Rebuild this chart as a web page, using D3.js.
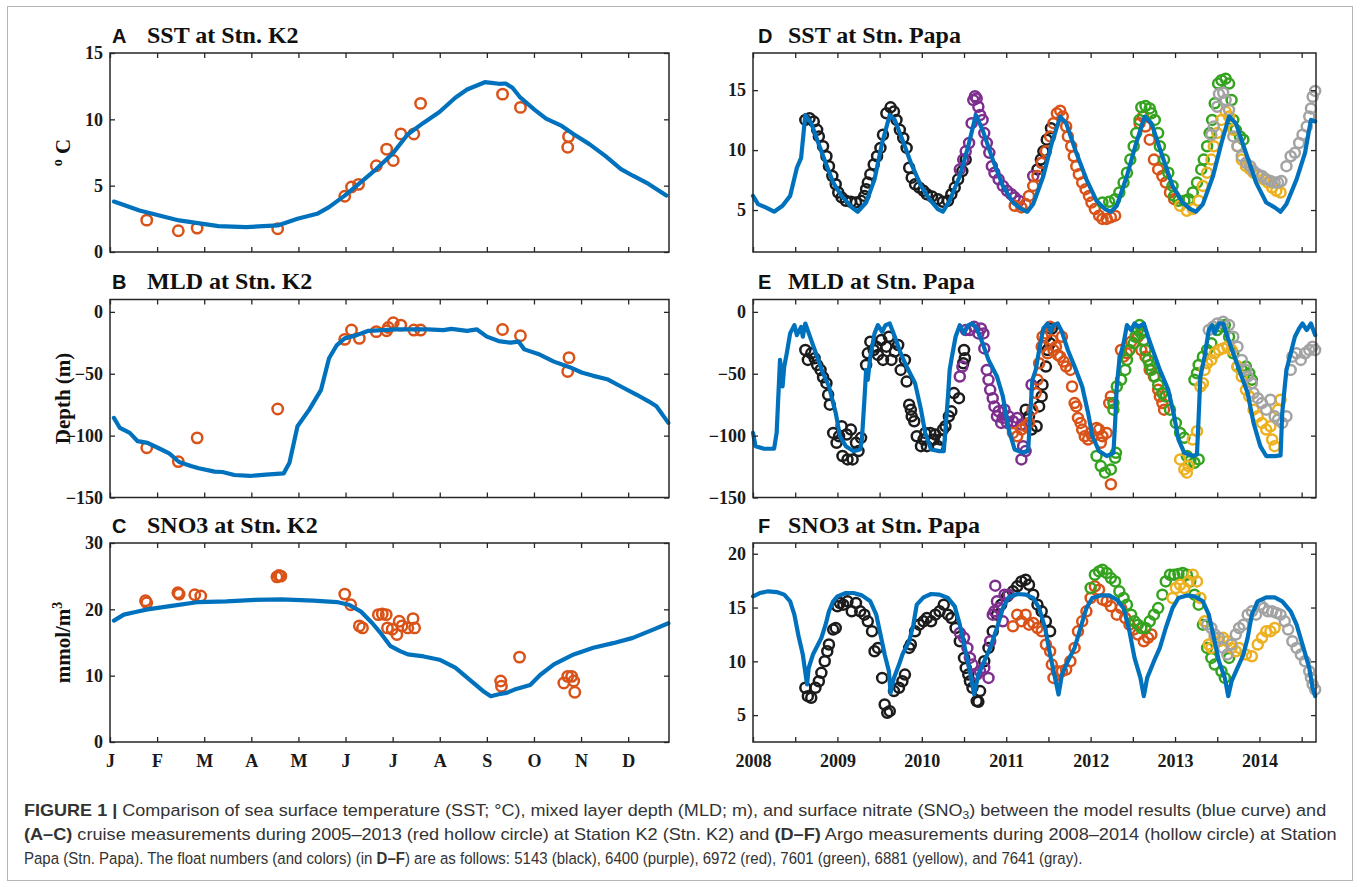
<!DOCTYPE html>
<html><head><meta charset="utf-8">
<script src="https://cdn.jsdelivr.net/npm/d3@7/dist/d3.min.js"></script>
<style>
body{margin:0;background:#fff;}
svg{display:block;}
</style></head><body>
<svg id="fig" width="1360" height="887"></svg>
<script>
// ---------------- DATA ----------------
// K2 panels: x = day of (30-day-month) year
const monthTicks = [0,30,60,90,120,150,180,210,240,270,300,330];
const monthLabels = ["J","F","M","A","M","J","J","A","S","O","N","D"];

const k2SstModel = [[2.5,3.8],[18.8,3.13],[44,2.38],[69.1,1.95],[86.7,1.88],[106.8,2.0],[119.4,2.5],[131.9,2.88],[139.5,3.38],[149.5,4.25],[159.6,5.25],[169.6,6.25],[179.7,7.38],[189.7,8.88],[199.8,9.75],[209.8,10.55],[219.9,11.63],[227.4,12.25],[238.7,12.8],[243,12.75],[247.5,12.68],[252,12.7],[256.3,12.38],[261.4,11.63],[270.1,10.75],[277.7,10.05],[287.7,9.5],[295.3,8.88],[305.3,8.13],[315.4,7.25],[325.4,6.25],[333,5.75],[343,5.13],[354.3,4.25]];
const k2SstObs = [[23.4,2.4],[43.5,1.6],[55.5,1.8],[106.8,1.75],[149.5,4.2],[153.8,4.9],[158.3,5.1],[169.6,6.5],[176.2,7.75],[180.4,6.9],[185.2,8.9],[193.5,8.9],[197.8,11.2],[250,11.9],[261.4,10.9],[292,8.7],[291.5,7.9]];

const k2MldModel = [[2.5,-85.7],[6.3,-93.8],[12.6,-97.8],[17.6,-104.5],[23.9,-105.8],[31.4,-110.4],[37.7,-114.4],[44,-121.3],[51.5,-124.6],[56.5,-126.4],[66.6,-129.1],[71.6,-129.4],[79.2,-131.8],[89.2,-132.6],[99.3,-131.5],[110.6,-130.5],[114.3,-121.9],[119.4,-92.4],[126.9,-79],[134.4,-63],[139.5,-37.5],[144.5,-26.8],[149.5,-21.4],[157.1,-18.8],[164.6,-15.3],[182.2,-14.2],[202.3,-14.2],[212.3,-14.7],[217.4,-13.7],[227.4,-15.3],[233.7,-14.2],[240,-20],[247.5,-23.6],[255.1,-24.9],[260.1,-24],[263.9,-30.3],[272.7,-34],[282.7,-40.2],[292.8,-44.7],[300.3,-49],[307.8,-51.7],[316.6,-54.4],[325.4,-60.3],[335.5,-67],[343,-72.3],[348,-76.3],[355.6,-89.7]];
const k2MldObs = [[23.4,-109.8],[43.5,-121],[55.5,-101.8],[106.8,-78.5],[149.5,-22.2],[153.8,-14.7],[158.8,-21.4],[169.6,-16],[176.2,-15.3],[177.2,-12.6],[180.4,-8.8],[185.2,-10.7],[193.5,-14.7],[197.8,-14.7],[250,-14.2],[261.4,-19.3],[292.3,-37],[291.5,-48.2]];

const k2No3Model = [[2.5,18.3],[8.8,19.2],[16.3,19.6],[23.9,20.0],[41.5,20.6],[56.5,21.1],[74.1,21.2],[89.2,21.4],[109.3,21.5],[129.4,21.3],[144.5,21.1],[152,20.7],[159.6,19.7],[167.1,17.9],[172.1,16.5],[178.4,14.5],[184.7,13.7],[189.7,13.2],[199.8,12.9],[209.8,12.4],[219.9,11.2],[229.9,9.2],[237.5,7.7],[242.5,6.9],[247.5,7.2],[252.6,7.4],[257.6,7.9],[267.6,8.6],[273.9,10.1],[282.7,11.7],[295.3,13.2],[307.8,14.2],[320.4,14.9],[333,15.7],[345.5,16.9],[355.6,17.9]];
const k2No3Obs = [[22.6,21.3],[23.4,21.0],[43.2,22.5],[44,22.3],[54,22.2],[57.8,22.0],[106.3,24.9],[107.6,25.1],[108.8,25.0],[149.5,22.3],[153.3,20.7],[158.8,17.5],[160.8,17.2],[170.9,19.2],[173.4,19.3],[175.9,19.2],[176.7,17.2],[179.7,17.0],[182.7,16.2],[184.2,18.2],[186,17.5],[189.7,17.2],[193,18.6],[194,17.2],[248.8,9.2],[249.3,8.4],[260.8,12.8],[289,8.9],[291.5,9.9],[294,9.9],[295.3,9.2],[296,7.5]];

// Papa panels: x = decimal year
const yearTicks = [2008,2008.5,2009,2009.5,2010,2010.5,2011,2011.5,2012,2012.5,2013,2013.5,2014,2014.5];
const yearLabels = ["2008","2009","2010","2011","2012","2013","2014"];

const papaSstModel = [[2008.00,6.18],[2008.06,5.50],[2008.15,5.22],[2008.25,4.86],[2008.35,5.36],[2008.44,6.18],[2008.52,8.53],[2008.57,9.35],[2008.62,12.93],[2008.69,12.25],[2008.76,10.87],[2008.86,8.94],[2008.95,7.29],[2009.05,6.18],[2009.17,5.22],[2009.24,4.86],[2009.34,5.63],[2009.44,7.56],[2009.53,10.59],[2009.62,12.93],[2009.68,12.52],[2009.77,10.87],[2009.87,8.94],[2009.99,7.01],[2010.09,5.91],[2010.19,5.08],[2010.25,4.86],[2010.33,5.77],[2010.45,7.84],[2010.55,10.32],[2010.64,12.93],[2010.72,11.69],[2010.84,9.21],[2010.96,7.01],[2011.08,5.63],[2011.18,5.08],[2011.25,4.86],[2011.32,5.50],[2011.44,7.84],[2011.54,10.59],[2011.64,12.80],[2011.71,12.25],[2011.83,9.77],[2011.95,7.56],[2012.07,5.77],[2012.17,5.08],[2012.24,4.86],[2012.31,5.36],[2012.43,7.84],[2012.54,10.59],[2012.64,12.80],[2012.72,12.25],[2012.85,9.49],[2012.97,7.01],[2013.09,5.63],[2013.18,5.08],[2013.25,4.86],[2013.33,5.50],[2013.45,7.84],[2013.55,10.59],[2013.64,12.80],[2013.72,12.25],[2013.84,9.77],[2013.96,7.29],[2014.08,5.63],[2014.18,5.22],[2014.25,4.86],[2014.32,5.50],[2014.44,7.56],[2014.54,9.77],[2014.61,12.52],[2014.66,12.38]];
const sstBlack = [[2008.62,12.52],[2008.67,12.66],[2008.72,12.38],[2008.76,11.69],[2008.78,11.14],[2008.83,10.32],[2008.87,9.49],[2008.90,8.66],[2008.94,7.84],[2008.98,7.15],[2009.01,6.46],[2009.05,6.05],[2009.10,5.77],[2009.16,5.69],[2009.22,5.63],[2009.28,5.77],[2009.32,6.18],[2009.34,6.74],[2009.36,7.29],[2009.39,7.98],[2009.43,8.80],[2009.47,9.49],[2009.51,10.18],[2009.54,11.28],[2009.58,13.07],[2009.63,13.57],[2009.67,13.21],[2009.70,12.52],[2009.74,11.69],[2009.78,11.01],[2009.82,10.18],[2009.85,8.53],[2009.88,7.70],[2009.92,7.15],[2009.97,6.87],[2010.02,6.60],[2010.06,6.32],[2010.12,6.13],[2010.19,5.91],[2010.25,5.69],[2010.31,5.77],[2010.35,6.32],[2010.39,6.87],[2010.43,7.56],[2010.48,8.25],[2010.52,9.21],[2011.37,8.39],[2011.41,9.21],[2011.44,9.90],[2011.48,10.87],[2011.53,11.83]];
const sstPurple = [[2010.45,8.39],[2010.49,9.21],[2010.52,9.90],[2010.56,10.59],[2010.59,12.25],[2010.61,14.17],[2010.63,14.50],[2010.65,14.31],[2010.67,13.62],[2010.69,12.93],[2010.72,12.52],[2010.74,11.42],[2010.77,10.59],[2010.80,9.77],[2010.83,8.66],[2010.86,8.11],[2010.91,7.56],[2010.96,7.01],[2011.01,6.60],[2011.06,6.32],[2011.10,6.05],[2011.15,5.77],[2011.32,7.84],[2011.42,8.94]];
const sstRed = [[2011.10,5.36],[2011.18,5.22],[2011.23,5.50],[2011.27,6.18],[2011.32,7.01],[2011.37,7.84],[2011.42,8.94],[2011.47,9.90],[2011.52,11.14],[2011.56,12.25],[2011.60,13.07],[2011.64,13.29],[2011.67,12.80],[2011.71,11.97],[2011.73,11.14],[2011.77,10.32],[2011.80,9.49],[2011.83,8.66],[2011.86,7.98],[2011.90,7.29],[2011.94,6.74],[2011.98,6.18],[2012.01,5.63],[2012.05,5.08],[2012.10,4.53],[2012.14,4.26],[2012.19,4.26],[2012.24,4.39],[2012.29,4.53],[2012.58,12.25],[2012.62,12.80],[2012.65,11.97],[2012.70,10.87],[2012.75,9.21],[2012.80,8.39],[2012.85,7.84],[2012.89,7.29],[2012.94,6.46],[2012.99,5.91]];
const sstGreen = [[2012.14,5.63],[2012.22,5.69],[2012.29,5.91],[2012.34,6.46],[2012.39,7.29],[2012.43,8.11],[2012.47,9.21],[2012.51,10.32],[2012.54,11.42],[2012.58,12.52],[2012.60,13.57],[2012.65,13.68],[2012.70,13.48],[2012.72,13.07],[2012.76,12.52],[2012.80,11.42],[2012.82,10.32],[2012.87,9.21],[2012.92,8.11],[2012.97,7.01],[2012.99,6.18],[2013.04,5.77],[2013.11,5.77],[2013.16,5.91],[2013.21,6.46],[2013.26,7.29],[2013.31,8.39],[2013.34,9.21],[2013.38,10.32],[2013.41,11.42],[2013.44,12.52],[2013.47,13.90],[2013.51,15.55],[2013.55,15.83],[2013.60,15.96],[2013.64,15.55],[2013.67,14.17],[2013.69,12.52],[2013.72,11.69],[2013.77,11.14],[2013.81,10.87]];
const sstYellow = [[2013.06,5.36],[2013.14,4.94],[2013.21,5.08],[2013.28,5.77],[2013.33,7.01],[2013.38,8.11],[2013.43,9.21],[2013.46,10.32],[2013.50,11.42],[2013.55,12.52],[2013.60,13.21],[2013.64,12.80],[2013.69,11.69],[2013.74,10.32],[2013.79,9.21],[2013.84,8.66],[2013.89,8.39],[2013.93,8.11],[2013.99,7.84],[2014.05,7.56],[2014.10,7.29],[2014.15,6.87],[2014.20,6.60],[2014.25,6.46]];
const sstGray = [[2013.43,11.28],[2013.46,11.97],[2013.50,13.62],[2013.52,14.67],[2013.57,14.78],[2013.60,14.17],[2013.64,13.35],[2013.69,11.14],[2013.74,10.32],[2013.79,9.49],[2013.84,8.94],[2013.89,8.66],[2013.93,8.25],[2013.98,7.98],[2014.03,7.84],[2014.08,7.56],[2014.13,7.42],[2014.18,7.29],[2014.22,7.29],[2014.26,7.42],[2014.32,8.66],[2014.37,9.49],[2014.42,9.77],[2014.47,10.59],[2014.51,11.28],[2014.56,11.97],[2014.59,12.80],[2014.61,13.48],[2014.63,14.45],[2014.66,14.94]];

const papaMldModel = [[2008.00,-97.8],[2008.03,-108.5],[2008.13,-110.6],[2008.25,-110.6],[2008.28,-97.8],[2008.30,-68.3],[2008.32,-38.8],[2008.35,-60.3],[2008.37,-44.2],[2008.40,-33.5],[2008.44,-17.4],[2008.49,-10.7],[2008.52,-18.8],[2008.57,-12.1],[2008.59,-20.1],[2008.62,-9.4],[2008.69,-22.8],[2008.76,-36.2],[2008.83,-49.6],[2008.90,-60.3],[2008.98,-81.7],[2009.03,-100.5],[2009.10,-108.5],[2009.19,-112.5],[2009.27,-111.2],[2009.29,-103.1],[2009.32,-71.0],[2009.34,-46.9],[2009.36,-54.9],[2009.39,-36.2],[2009.44,-17.4],[2009.48,-10.7],[2009.53,-16.1],[2009.57,-10.7],[2009.62,-9.4],[2009.68,-20.1],[2009.75,-33.5],[2009.82,-44.2],[2009.92,-57.6],[2009.99,-79.0],[2010.04,-97.8],[2010.11,-111.2],[2010.21,-112.5],[2010.26,-112.5],[2010.28,-95.1],[2010.31,-68.3],[2010.33,-46.9],[2010.35,-38.8],[2010.40,-20.1],[2010.45,-10.7],[2010.50,-17.4],[2010.55,-10.7],[2010.60,-9.4],[2010.65,-13.4],[2010.72,-25.4],[2010.79,-38.8],[2010.89,-52.2],[2010.96,-68.3],[2011.03,-95.1],[2011.10,-111.2],[2011.20,-113.9],[2011.26,-112.5],[2011.28,-87.1],[2011.31,-54.9],[2011.35,-46.9],[2011.39,-30.8],[2011.44,-13.4],[2011.49,-9.4],[2011.53,-16.1],[2011.56,-10.7],[2011.61,-9.4],[2011.66,-16.1],[2011.73,-30.8],[2011.81,-44.2],[2011.90,-60.3],[2011.97,-81.7],[2012.02,-100.5],[2012.10,-112.5],[2012.19,-116.5],[2012.27,-113.9],[2012.29,-89.7],[2012.31,-60.3],[2012.34,-38.8],[2012.39,-25.4],[2012.43,-10.7],[2012.48,-14.7],[2012.52,-9.4],[2012.57,-12.1],[2012.63,-9.4],[2012.68,-20.1],[2012.75,-33.5],[2012.82,-46.9],[2012.92,-63.0],[2012.99,-84.4],[2013.04,-103.1],[2013.11,-113.9],[2013.21,-116.5],[2013.26,-115.2],[2013.28,-84.4],[2013.30,-52.2],[2013.35,-36.2],[2013.40,-14.7],[2013.44,-10.7],[2013.47,-17.4],[2013.52,-9.4],[2013.57,-9.4],[2013.62,-20.1],[2013.69,-33.5],[2013.76,-46.9],[2013.86,-65.6],[2013.93,-89.7],[2014.01,-108.5],[2014.08,-116.5],[2014.18,-116.5],[2014.25,-116.0],[2014.27,-81.7],[2014.30,-60.3],[2014.32,-46.9],[2014.37,-33.5],[2014.42,-20.1],[2014.47,-13.4],[2014.51,-9.4],[2014.56,-14.7],[2014.61,-9.4],[2014.66,-18.8]];
const mldBlack = [[2008.62,-30.8],[2008.65,-38.8],[2008.69,-33.5],[2008.73,-37.5],[2008.76,-42.9],[2008.80,-46.9],[2008.83,-52.8],[2008.87,-57.6],[2008.89,-67.0],[2008.91,-75.0],[2008.95,-97.8],[2008.99,-105.8],[2009.02,-100.5],[2009.05,-92.4],[2009.06,-116.5],[2009.11,-99.1],[2009.12,-119.2],[2009.16,-95.1],[2009.18,-119.2],[2009.22,-105.8],[2009.25,-112.5],[2009.28,-101.8],[2009.34,-42.9],[2009.36,-33.5],[2009.39,-24.1],[2009.43,-30.8],[2009.46,-28.1],[2009.48,-34.8],[2009.52,-22.8],[2009.54,-38.8],[2009.58,-28.1],[2009.61,-20.1],[2009.64,-38.8],[2009.68,-32.1],[2009.72,-26.8],[2009.75,-46.9],[2009.80,-38.8],[2009.82,-56.3],[2009.85,-75.0],[2009.87,-79.0],[2009.88,-84.4],[2009.91,-88.4],[2009.94,-100.5],[2009.99,-108.5],[2010.02,-103.1],[2010.04,-97.8],[2010.06,-108.5],[2010.10,-97.8],[2010.14,-103.1],[2010.16,-99.1],[2010.19,-108.5],[2010.22,-103.1],[2010.25,-95.1],[2010.28,-92.4],[2010.32,-84.4],[2010.35,-80.4],[2010.38,-65.6],[2010.44,-69.7],[2010.50,-30.8],[2010.51,-37.5],[2010.49,-41.5],[2011.23,-79.0],[2011.27,-84.4],[2011.30,-95.1],[2011.36,-92.4],[2011.39,-76.4],[2011.42,-68.3],[2011.43,-58.9],[2011.47,-44.2],[2011.49,-30.8],[2011.47,-20.1],[2011.52,-25.4],[2011.54,-13.4]];
const mldPurple = [[2010.45,-52.2],[2010.48,-44.2],[2010.52,-14.7],[2010.57,-14.7],[2010.62,-12.1],[2010.67,-17.4],[2010.70,-13.4],[2010.73,-17.4],[2010.74,-29.5],[2010.77,-46.9],[2010.79,-54.9],[2010.81,-63.0],[2010.84,-69.7],[2010.86,-76.4],[2010.89,-84.4],[2010.91,-80.4],[2010.94,-89.7],[2010.96,-85.7],[2010.98,-79.0],[2011.01,-89.7],[2011.03,-84.4],[2011.08,-88.4],[2011.13,-85.7],[2011.18,-91.1],[2011.20,-108.5],[2011.23,-112.5],[2011.18,-119.2],[2011.30,-58.9]];
const mldRed = [[2011.08,-97.8],[2011.13,-100.5],[2011.18,-95.1],[2011.23,-92.4],[2011.27,-89.7],[2011.31,-79.0],[2011.35,-65.6],[2011.37,-54.9],[2011.39,-41.5],[2011.42,-28.1],[2011.43,-20.1],[2011.47,-17.4],[2011.49,-33.5],[2011.52,-12.1],[2011.54,-22.8],[2011.56,-30.8],[2011.59,-28.1],[2011.61,-34.8],[2011.64,-36.2],[2011.66,-20.1],[2011.68,-40.2],[2011.71,-44.2],[2011.76,-46.9],[2011.78,-60.3],[2011.81,-73.7],[2011.83,-76.4],[2011.85,-85.7],[2011.88,-89.7],[2011.90,-95.1],[2011.93,-100.5],[2011.97,-103.1],[2012.00,-97.8],[2012.02,-100.5],[2012.07,-93.8],[2012.10,-95.1],[2012.12,-105.8],[2012.14,-100.5],[2012.19,-97.8],[2012.24,-139.3],[2012.22,-73.7],[2012.24,-68.3],[2012.36,-30.8],[2012.39,-36.2],[2012.43,-33.5],[2012.48,-24.1],[2012.56,-20.1],[2012.60,-30.8],[2012.65,-36.2],[2012.70,-46.9],[2012.75,-52.2],[2012.80,-63.0],[2012.82,-68.3],[2012.85,-73.7],[2012.87,-79.0]];
const mldGreen = [[2012.07,-116.5],[2012.12,-124.6],[2012.17,-129.9],[2012.24,-127.3],[2012.29,-117.9],[2012.30,-113.9],[2012.27,-79.0],[2012.27,-73.7],[2012.31,-60.3],[2012.36,-54.9],[2012.41,-46.9],[2012.43,-38.8],[2012.46,-30.8],[2012.51,-25.4],[2012.53,-20.1],[2012.56,-14.7],[2012.58,-10.7],[2012.60,-17.4],[2012.63,-22.8],[2012.65,-30.8],[2012.68,-38.8],[2012.70,-42.9],[2012.72,-46.9],[2012.76,-52.2],[2012.80,-58.9],[2012.85,-65.6],[2012.89,-68.3],[2012.94,-79.0],[2013.01,-89.7],[2013.06,-97.8],[2013.11,-101.8],[2013.14,-116.5],[2013.18,-120.5],[2013.23,-121.9],[2013.28,-119.2],[2013.23,-54.9],[2013.26,-49.6],[2013.28,-42.9],[2013.33,-36.2],[2013.38,-30.8],[2013.43,-25.4],[2013.50,-14.7],[2013.55,-12.1],[2013.59,-10.7],[2013.64,-20.1],[2013.69,-33.5],[2013.74,-44.2],[2013.79,-46.9],[2013.84,-44.2],[2013.88,-49.6],[2013.91,-54.9]];
const mldYellow = [[2013.06,-119.2],[2013.11,-127.3],[2013.14,-129.9],[2013.16,-124.6],[2013.21,-103.1],[2013.26,-96.4],[2013.30,-60.3],[2013.33,-57.6],[2013.35,-46.9],[2013.38,-41.5],[2013.43,-38.8],[2013.47,-33.5],[2013.52,-30.8],[2013.57,-29.5],[2013.62,-28.1],[2013.67,-30.8],[2013.74,-44.2],[2013.79,-52.2],[2013.84,-63.0],[2013.88,-68.3],[2013.93,-79.0],[2013.98,-84.4],[2014.03,-89.7],[2014.08,-95.1],[2014.13,-92.4],[2014.15,-103.1],[2014.18,-108.5],[2014.22,-79.0],[2014.25,-71.0]];
const mldGray = [[2013.40,-14.7],[2013.45,-12.1],[2013.50,-9.4],[2013.57,-8.0],[2013.64,-10.7],[2013.69,-20.1],[2013.74,-28.1],[2013.79,-38.8],[2013.84,-46.9],[2013.86,-52.2],[2013.91,-57.6],[2013.93,-65.6],[2013.98,-69.7],[2014.03,-73.7],[2014.08,-79.0],[2014.13,-71.0],[2014.18,-84.4],[2014.22,-87.1],[2014.27,-89.7],[2014.32,-84.4],[2014.37,-46.9],[2014.39,-36.2],[2014.44,-33.5],[2014.49,-38.8],[2014.54,-33.5],[2014.59,-30.8],[2014.63,-28.1],[2014.66,-30.8]];

const papaNo3Model = [[2008.00,16.04],[2008.08,16.35],[2008.18,16.51],[2008.28,16.44],[2008.37,16.20],[2008.44,15.58],[2008.49,14.34],[2008.54,12.33],[2008.59,10.63],[2008.64,7.85],[2008.66,9.39],[2008.71,10.63],[2008.76,11.40],[2008.81,12.18],[2008.86,13.41],[2008.90,14.65],[2008.95,15.58],[2009.00,16.04],[2009.10,16.35],[2009.19,16.35],[2009.29,16.13],[2009.39,15.58],[2009.46,14.34],[2009.51,12.49],[2009.56,10.63],[2009.61,9.08],[2009.63,7.07],[2009.67,8.46],[2009.73,9.70],[2009.77,10.63],[2009.85,11.87],[2009.90,13.41],[2009.94,15.27],[2010.02,15.95],[2010.11,16.26],[2010.21,16.20],[2010.31,15.89],[2010.39,15.11],[2010.45,13.41],[2010.51,11.25],[2010.57,9.08],[2010.62,6.92],[2010.67,8.77],[2010.74,10.01],[2010.81,11.25],[2010.89,13.10],[2010.96,14.95],[2011.03,15.95],[2011.13,16.26],[2011.23,16.20],[2011.32,15.89],[2011.39,14.95],[2011.46,13.10],[2011.52,10.63],[2011.57,8.77],[2011.62,6.92],[2011.66,8.77],[2011.73,10.01],[2011.81,11.25],[2011.88,13.10],[2011.95,14.95],[2012.02,15.89],[2012.12,16.13],[2012.22,16.13],[2012.31,15.73],[2012.39,14.95],[2012.46,12.79],[2012.52,10.32],[2012.59,8.46],[2012.63,6.76],[2012.67,8.46],[2012.75,10.01],[2012.82,11.25],[2012.89,13.10],[2012.97,14.95],[2013.04,15.89],[2013.14,16.13],[2013.23,16.04],[2013.33,15.58],[2013.40,14.34],[2013.46,12.18],[2013.52,10.01],[2013.59,8.46],[2013.63,6.76],[2013.67,8.15],[2013.74,9.39],[2013.81,10.63],[2013.86,12.18],[2013.91,14.34],[2013.98,15.58],[2014.08,15.95],[2014.18,15.95],[2014.27,15.58],[2014.37,14.65],[2014.44,13.41],[2014.51,11.56],[2014.59,9.39],[2014.63,7.54],[2014.66,6.76]];
const no3Black = [[2008.62,7.54],[2008.65,6.76],[2008.69,6.61],[2008.74,7.54],[2008.78,8.15],[2008.81,8.93],[2008.85,10.01],[2008.88,10.94],[2008.90,11.56],[2008.95,12.95],[2008.98,13.10],[2009.00,15.11],[2009.03,15.42],[2009.07,15.27],[2009.12,15.58],[2009.17,14.65],[2009.22,15.42],[2009.27,14.65],[2009.32,14.34],[2009.36,13.72],[2009.41,12.79],[2009.44,10.94],[2009.48,11.25],[2009.53,8.46],[2009.56,5.99],[2009.59,5.22],[2009.62,5.37],[2009.67,7.23],[2009.73,7.54],[2009.77,8.15],[2009.80,8.77],[2009.85,11.25],[2009.87,11.56],[2009.92,12.79],[2009.97,13.41],[2010.02,13.72],[2010.06,14.03],[2010.11,13.72],[2010.16,14.34],[2010.21,14.65],[2010.26,15.27],[2010.31,14.34],[2010.35,14.03],[2010.40,13.10],[2010.45,11.87],[2010.50,10.32],[2010.52,9.39],[2010.55,8.77],[2010.57,8.15],[2010.60,7.54],[2010.65,6.30],[2010.67,6.24],[2010.69,7.23],[2010.74,10.01],[2010.79,11.25],[2010.84,12.79],[2010.89,14.34],[2010.94,15.27],[2011.01,16.04],[2011.08,16.51],[2011.13,16.97],[2011.18,17.43],[2011.23,17.59],[2011.27,17.12],[2011.32,16.20],[2011.37,15.27],[2011.42,14.65],[2011.47,13.72],[2011.52,12.79]];
const no3Purple = [[2010.45,12.64],[2010.50,12.18],[2010.54,11.25],[2010.57,10.32],[2010.60,9.70],[2010.65,8.77],[2010.69,9.08],[2010.74,9.39],[2010.79,8.46],[2010.81,11.87],[2010.84,14.34],[2010.86,14.65],[2010.89,15.58],[2010.91,14.95],[2010.96,13.72],[2010.98,16.20],[2011.03,16.20],[2010.87,17.03]];
const no3Red = [[2011.08,13.26],[2011.13,14.34],[2011.18,13.72],[2011.23,14.34],[2011.27,13.41],[2011.32,13.57],[2011.37,13.10],[2011.42,12.79],[2011.47,11.56],[2011.52,10.94],[2011.54,9.70],[2011.56,8.46],[2011.60,9.08],[2011.66,9.08],[2011.71,9.24],[2011.76,10.01],[2011.81,11.25],[2011.85,12.79],[2011.90,13.72],[2011.95,14.65],[2012.00,15.89],[2012.05,16.97],[2012.10,16.66],[2012.14,15.73],[2012.19,15.58],[2012.24,15.11],[2012.31,14.34],[2012.36,14.95],[2012.41,14.03],[2012.46,13.41],[2012.51,12.95],[2012.56,12.49],[2012.63,11.87],[2012.68,12.18],[2012.72,12.49]];
const no3Green = [[2012.00,16.82],[2012.05,18.05],[2012.10,18.36],[2012.14,18.52],[2012.19,18.21],[2012.24,17.74],[2012.29,17.43],[2012.34,16.51],[2012.39,15.89],[2012.43,15.27],[2012.48,14.34],[2012.52,13.72],[2012.56,13.41],[2012.60,13.10],[2012.65,13.10],[2012.70,13.72],[2012.75,14.34],[2012.80,14.95],[2012.85,16.20],[2012.89,17.43],[2012.94,18.05],[2012.99,18.05],[2013.04,18.11],[2013.09,18.21],[2013.14,18.05],[2013.18,17.43],[2013.23,16.20],[2013.28,15.27],[2013.33,13.41],[2013.38,11.25],[2013.43,10.32],[2013.47,9.70],[2013.55,9.08],[2013.59,8.46],[2013.64,10.32]];
const no3Yellow = [[2012.97,15.89],[2013.01,16.82],[2013.06,17.12],[2013.11,16.82],[2013.16,17.43],[2013.21,18.05],[2013.26,17.43],[2013.30,15.89],[2013.35,13.72],[2013.40,11.56],[2013.43,11.25],[2013.47,12.18],[2013.52,11.87],[2013.57,12.18],[2013.62,11.87],[2013.67,11.25],[2013.72,10.94],[2013.76,11.25],[2013.84,10.63],[2013.91,10.47],[2013.98,11.56],[2014.03,12.18],[2014.08,12.79],[2014.13,12.79],[2014.18,13.10]];
const no3Gray = [[2013.38,13.41],[2013.43,13.10],[2013.47,12.49],[2013.52,12.18],[2013.57,11.25],[2013.62,10.63],[2013.67,11.56],[2013.72,12.49],[2013.76,13.10],[2013.81,13.41],[2013.86,14.34],[2013.91,14.65],[2013.96,14.34],[2014.01,15.27],[2014.05,14.95],[2014.10,14.65],[2014.15,14.65],[2014.20,14.50],[2014.25,14.34],[2014.30,13.72],[2014.34,12.95],[2014.39,11.87],[2014.44,11.25],[2014.49,10.63],[2014.54,10.01],[2014.59,9.08],[2014.61,8.46],[2014.63,7.85],[2014.66,7.38]];

const floatColors = {black:"#1c1c1c", purple:"#7E2F8E", red:"#D95319", green:"#35A31F", yellow:"#EDB120", gray:"#A3A3A3"};
const modelColor = "#0072BD";
const cruiseColor = "#D95319";

// ---------------- DRAWING ----------------
const svg = d3.select("#fig");
const serif = "'Liberation Serif','Times New Roman',serif";
const sans = "'Liberation Sans',Arial,sans-serif";

svg.append("rect").attr("x",7.5).attr("y",6.5).attr("width",1345).attr("height",874)
  .attr("fill","none").attr("stroke","#b5b5b5").attr("stroke-width",1);

const colL = [110, 669], colR = [753, 1316];
const rows = [[53,252],[299.5,497.5],[543,742]];

function panel(o) {
  const g = svg.append("g");
  const x = d3.scaleLinear().domain(o.xDomain).range([o.col[0], o.col[1]]);
  const y = d3.scaleLinear().domain(o.yDomain).range([o.row[1], o.row[0]]);
  o.obs.forEach(s => {
    g.append("g").selectAll("circle").data(s.data).join("circle")
      .attr("cx", d => x(d[0])).attr("cy", d => y(d[1])).attr("r", o.r)
      .attr("fill","none").attr("stroke", s.color).attr("stroke-width", 2.5);
  });
  g.append("path").datum(o.model)
    .attr("d", d3.line().x(d => x(d[0])).y(d => y(d[1])))
    .attr("fill","none").attr("stroke", modelColor).attr("stroke-width", 4.2)
    .attr("stroke-linejoin","round").attr("stroke-linecap","round");
  const tk = 5;
  const ax = (gen, tr) => {
    const a = g.append("g").attr("transform", tr).call(gen);
    a.select(".domain").remove();
    a.selectAll("line").attr("stroke","#262626").attr("stroke-width",1.3);
    a.selectAll("text").attr("font-family", serif).attr("font-weight","bold")
      .attr("font-size", 18).attr("fill","#1a1a1a");
    return a;
  };
  const fmtX = o.xLabelFn || (() => "");
  ax(d3.axisBottom(x).tickValues(o.xTicks).tickSizeInner(-tk).tickSizeOuter(0).tickPadding(12).tickFormat(fmtX),
     `translate(0,${o.row[1]})`);
  ax(d3.axisTop(x).tickValues(o.xTicks).tickSizeInner(-tk).tickSizeOuter(0).tickFormat(() => ""),
     `translate(0,${o.row[0]})`);
  ax(d3.axisLeft(y).tickValues(o.yTicks).tickSizeInner(-tk).tickSizeOuter(0).tickPadding(7).tickFormat(d3.format("d")),
     `translate(${o.col[0]},0)`);
  ax(d3.axisRight(y).tickValues(o.yTicks).tickSizeInner(-tk).tickSizeOuter(0).tickFormat(() => ""),
     `translate(${o.col[1]},0)`);
  g.append("rect").attr("x", o.col[0]).attr("y", o.row[0])
    .attr("width", o.col[1]-o.col[0]).attr("height", o.row[1]-o.row[0])
    .attr("fill","none").attr("stroke","#262626").attr("stroke-width",1.5);
  const ty = o.row[0] - 10.5;
  g.append("text").attr("x", o.col[0] + (o.col === colL ? 2 : 5)).attr("y", ty)
    .attr("font-family", sans).attr("font-weight","bold").attr("font-size",20)
    .attr("fill","#111").text(o.letter);
  g.append("text").attr("x", o.col[0] + (o.col === colL ? 37 : 35)).attr("y", ty)
    .attr("font-family", serif).attr("font-weight","bold").attr("font-size",24)
    .attr("fill","#111").text(o.title);
  return {x, y, g};
}

const monthFmt = d => monthLabels[monthTicks.indexOf(d)];
panel({col:colL, row:rows[0], xDomain:[0,356], yDomain:[0,15], xTicks:monthTicks, yTicks:[0,5,10,15],
  model:k2SstModel, obs:[{data:k2SstObs,color:cruiseColor}], r:5.2, letter:"A", title:"SST at Stn. K2"});
panel({col:colL, row:rows[1], xDomain:[0,356], yDomain:[-150,10], xTicks:monthTicks, yTicks:[-150,-100,-50,0],
  model:k2MldModel, obs:[{data:k2MldObs,color:cruiseColor}], r:5.2, letter:"B", title:"MLD at Stn. K2"});
panel({col:colL, row:rows[2], xDomain:[0,356], yDomain:[0,30], xTicks:monthTicks, yTicks:[0,10,20,30],
  model:k2No3Model, obs:[{data:k2No3Obs,color:cruiseColor}], r:5.2, letter:"C", title:"SNO3 at Stn. K2", xLabelFn:monthFmt});

const yearFmt = d => yearLabels.includes(String(d)) ? String(d) : "";
const obsSet = (b,p,r,g,yl,gr) => [
  {data:b,color:floatColors.black},{data:p,color:floatColors.purple},{data:r,color:floatColors.red},
  {data:g,color:floatColors.green},{data:yl,color:floatColors.yellow},{data:gr,color:floatColors.gray}];
panel({col:colR, row:rows[0], xDomain:[2008,2014.67], yDomain:[1.5,18.1], xTicks:yearTicks, yTicks:[5,10,15],
  model:papaSstModel, obs:obsSet(sstBlack,sstPurple,sstRed,sstGreen,sstYellow,sstGray), r:5, letter:"D", title:"SST at Stn. Papa"});
panel({col:colR, row:rows[1], xDomain:[2008,2014.67], yDomain:[-150,10], xTicks:yearTicks, yTicks:[-150,-100,-50,0],
  model:papaMldModel, obs:obsSet(mldBlack,mldPurple,mldRed,mldGreen,mldYellow,mldGray), r:5, letter:"E", title:"MLD at Stn. Papa"});
panel({col:colR, row:rows[2], xDomain:[2008,2014.67], yDomain:[2.5,21], xTicks:yearTicks, yTicks:[5,10,15,20],
  model:papaNo3Model, obs:obsSet(no3Black,no3Purple,no3Red,no3Green,no3Yellow,no3Gray), r:5, letter:"F", title:"SNO3 at Stn. Papa", xLabelFn:yearFmt});

function yTitle(cy, build) {
  const t = svg.append("text").attr("transform", `translate(70,${cy}) rotate(-90)`)
    .attr("text-anchor","middle").attr("font-family", serif).attr("font-weight","bold")
    .attr("font-size",21).attr("fill","#111");
  build(t);
}
yTitle((rows[0][0]+rows[0][1])/2, t => {
  t.append("tspan").attr("font-size",14).attr("dy",-8).text("o");
  t.append("tspan").attr("dy",8).text(" C");
});
yTitle((rows[1][0]+rows[1][1])/2, t => t.text("Depth (m)"));
yTitle((rows[2][0]+rows[2][1])/2, t => {
  t.append("tspan").text("mmol/m");
  t.append("tspan").attr("font-size",14).attr("dy",-8).text("3");
});

// Caption: each line squeezed/stretched horizontally to the reference width
const capLines = [
  {y:816, len:1303, parts:[["FIGURE 1 | ",true],["Comparison of sea surface temperature (SST; °C), mixed layer depth (MLD; m), and surface nitrate (SNO",false],["3",false,"sub"],[") between the model results (blue curve) and",false]]},
  {y:840, len:1313, parts:[["(A–C)",true],[" cruise measurements during 2005–2013 (red hollow circle) at Station K2 (Stn. K2) and ",false],["(D–F)",true],[" Argo measurements during 2008–2014 (hollow circle) at Station",false]]},
  {y:864, len:1059, parts:[["Papa (Stn. Papa). The float numbers (and colors) (in ",false],["D–F",true],[") are as follows: 5143 (black), 6400 (purple), 6972 (red), 7601 (green), 6881 (yellow), and 7641 (gray).",false]]}
];
capLines.forEach(L => {
  const t = svg.append("text").attr("x",0).attr("y",0)
    .attr("font-family", sans).attr("font-size",16.5).attr("fill","#333");
  let shifted = false;
  L.parts.forEach(p => {
    const ts = t.append("tspan").text(p[0]).attr("font-weight", p[1] ? "bold" : "normal");
    if (p[2] === "sub") { ts.attr("font-size",11).attr("dy",3); shifted = true; }
    else if (shifted) { ts.attr("dy",-3); shifted = false; }
  });
  const w = t.node().getComputedTextLength();
  t.attr("transform", `translate(24,${L.y}) scale(${L.len / w},1)`);
});
</script></body></html>
